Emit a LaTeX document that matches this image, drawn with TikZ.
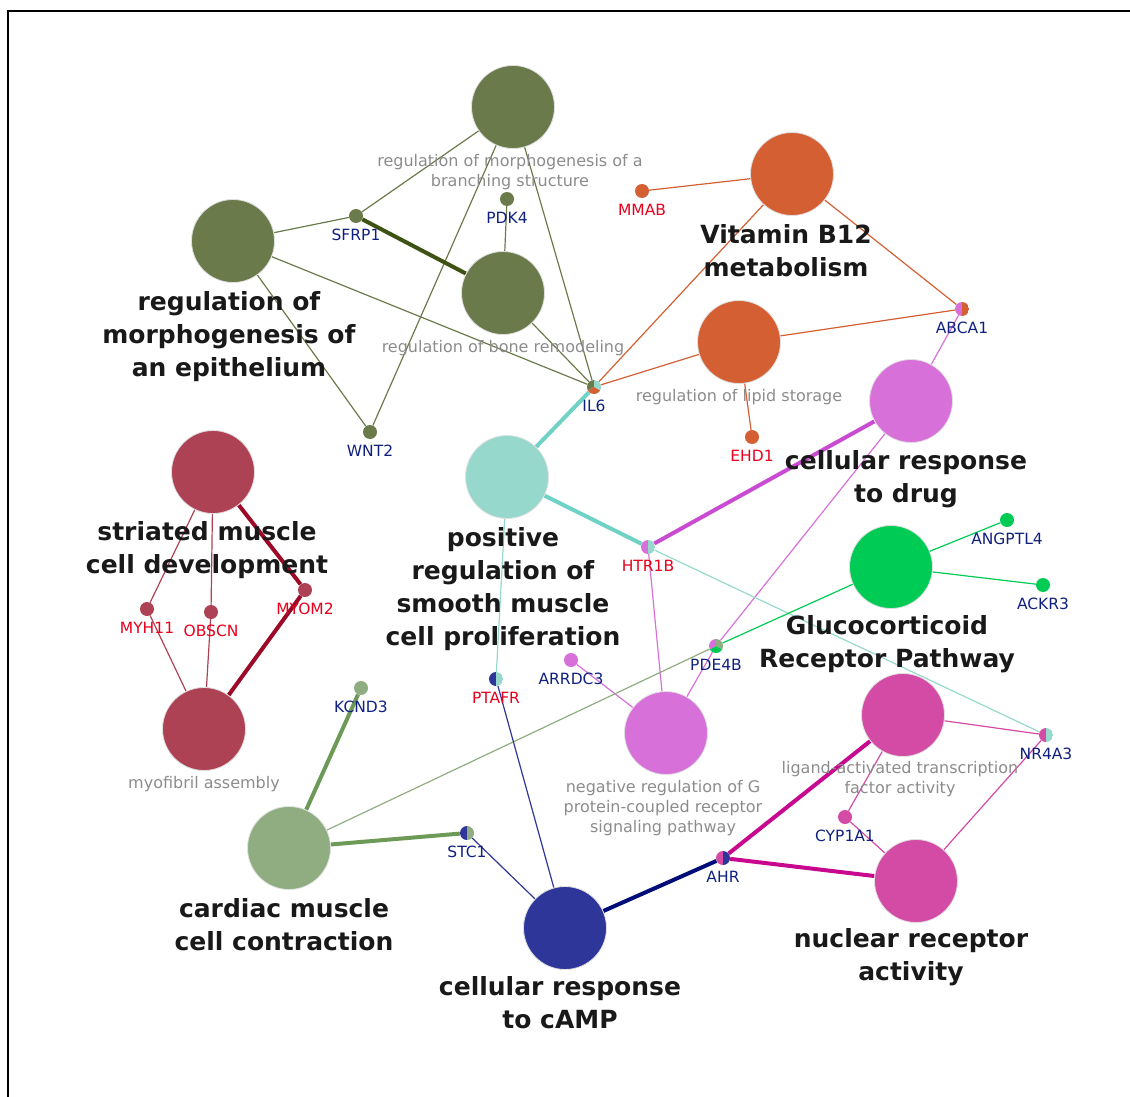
\documentclass[tikz,border=0pt]{standalone}
\usepackage{fontspec}
\setmainfont{DejaVu Sans}
\usetikzlibrary{backgrounds}

\definecolor{cOlive}{HTML}{6B7A4B}
\definecolor{cOliveD}{HTML}{3E5214}
\definecolor{cOrange}{HTML}{D35F33}
\definecolor{cRed}{HTML}{AE4255}
\definecolor{cRedD}{HTML}{9C0A28}
\definecolor{cCyan}{HTML}{96D9CC}
\definecolor{cCyanD}{HTML}{6FD2C4}
\definecolor{cViolet}{HTML}{D870DA}
\definecolor{cVioletD}{HTML}{C84BD2}
\definecolor{cGreen}{HTML}{00CC55}
\definecolor{cMag}{HTML}{D44BA5}
\definecolor{cMagD}{HTML}{C8088E}
\definecolor{cBlue}{HTML}{2E3799}
\definecolor{cBlueD}{HTML}{020E78}
\definecolor{cLGreen}{HTML}{8FAD80}
\definecolor{cLGreenD}{HTML}{6E9A58}
\definecolor{cNavy}{HTML}{102080}
\definecolor{cGeneRed}{HTML}{E8001C}

\begin{document}
\begin{tikzpicture}[x=1pt,y=-1pt,
    term/.style={circle,fill=#1,draw=black!12,line width=0.8pt,minimum size=83pt,inner sep=0pt},
    gene/.style={circle,fill=#1,minimum size=14pt,inner sep=0pt},
    half/.style 2 args={circle,minimum size=14pt,inner sep=0pt,
        path picture={\fill[#1](path picture bounding box.south west) rectangle (path picture bounding box.north);
        \fill[#2](path picture bounding box.north) rectangle (path picture bounding box.south east);}},
    tri/.style n args={3}{circle,minimum size=14pt,inner sep=0pt,
        path picture={\fill[#1](path picture bounding box.center) -- ++(90:8pt) arc[start angle=90,end angle=210,radius=8pt] -- cycle;
        \fill[#2](path picture bounding box.center) -- ++(-30:8pt) arc[start angle=-30,end angle=90,radius=8pt] -- cycle;
        \fill[#3](path picture bounding box.center) -- ++(210:8pt) arc[start angle=210,end angle=330,radius=8pt] -- cycle;}},
    glab/.style={font=\fontsize{15.5}{18}\selectfont,text=cNavy,inner sep=0pt,label distance=5.5pt},
    glabr/.style={glab,text=cGeneRed},
    tlab/.style={font=\bfseries\fontsize{25}{33}\selectfont,align=center,text=black!90,anchor=base,inner sep=0pt},
    slab/.style={font=\fontsize{16}{20}\selectfont,align=center,text=black!45,anchor=base,inner sep=0pt},
    ln/.style={line width=1.2pt,draw=#1},
    lnw/.style={line width=4pt,draw=#1}]

    \useasboundingbox (0,0) rectangle (1130,1097);
    \draw[line width=2pt] (1130,11) -- (7.7,11) -- (7.7,1097);

    \node[term=cOlive] (branch) at (513,107) {};
    \node[term=cOlive] (epith) at (233,241) {};
    \node[term=cOlive] (bone) at (503,293) {};
    \node[term=cOrange] (vitb) at (792,174) {};
    \node[term=cOrange] (lipid) at (739,342) {};
    \node[term=cViolet] (drug) at (911,401) {};
    \node[term=cRed] (striated) at (213,472) {};
    \node[term=cRed] (myofib) at (204,729) {};
    \node[term=cCyan] (smooth) at (507,477) {};
    \node[term=cGreen] (gluco) at (891,567) {};
    \node[term=cViolet] (gpcr) at (666,733) {};
    \node[term=cMag] (ligand) at (903,715) {};
    \node[term=cLGreen] (cardiac) at (289,848) {};
    \node[term=cBlue] (camp) at (565,928) {};
    \node[term=cMag] (nuclear) at (916,881) {};

    \node[gene=cOlive,label={[glab]below:SFRP1}] (sfrp1) at (356,216) {};
    \node[gene=cOlive,label={[glab]below:PDK4}] (pdk4) at (507,199) {};
    \node[gene=cOlive,label={[glab]below:WNT2}] (wnt2) at (370,432) {};
    \node[tri={cOlive}{cCyan}{cOrange},label={[glab]below:IL6}] (il6) at (594,387) {};
    \node[gene=cOrange,label={[glabr]below:MMAB}] (mmab) at (642,191) {};
    \node[gene=cOrange,label={[glabr]below:EHD1}] (ehd1) at (752,437) {};
    \node[half={cViolet}{cOrange},label={[glab]below:ABCA1}] (abca1) at (962,309) {};
    \node[half={cViolet}{cCyan},label={[glabr]below:HTR1B}] (htr1b) at (648,547) {};
    \node[gene=cGreen,label={[glab]below:ANGPTL4}] (angptl4) at (1007,520) {};
    \node[gene=cGreen,label={[glab]below:ACKR3}] (ackr3) at (1043,585) {};
    \node[tri={cViolet}{cLGreen}{cGreen},label={[glab]below:PDE4B}] (pde4b) at (716,646) {};
    \node[gene=cViolet,label={[glab]below:ARRDC3}] (arrdc3) at (571,660) {};
    \node[half={cBlue}{cCyan},label={[glabr]below:PTAFR}] (ptafr) at (496,679) {};
    \node[gene=cLGreen,label={[glab]below:KCND3}] (kcnd3) at (361,688) {};
    \node[half={cBlue}{cLGreen},label={[glab]below:STC1}] (stc1) at (467,833) {};
    \node[half={cMag}{cBlue},label={[glab]below:AHR}] (ahr) at (723,858) {};
    \node[gene=cMag,label={[glab]below:CYP1A1}] (cyp1a1) at (845,817) {};
    \node[half={cMag}{cCyan},label={[glab]below:NR4A3}] (nr4a3) at (1046,735) {};
    \node[gene=cRed,label={[glabr]below:MYH11}] (myh11) at (147,609) {};
    \node[gene=cRed,label={[glabr]below:OBSCN}] (obscn) at (211,612) {};
    \node[gene=cRed,label={[glabr]below:MYOM2}] (myom2) at (305,590) {};

    \begin{scope}[on background layer]
        \draw[ln=cOlive] (branch) -- (sfrp1);
        \draw[ln=cOlive] (branch) -- (wnt2);
        \draw[ln=cOlive] (branch) -- (il6);
        \draw[ln=cOlive] (epith) -- (sfrp1);
        \draw[ln=cOlive] (epith) -- (il6);
        \draw[ln=cOlive] (epith) -- (wnt2);
        \draw[ln=cOlive] (pdk4) -- (bone);
        \draw[ln=cOlive] (bone) -- (il6);
        \draw[lnw=cOliveD] (sfrp1) -- (bone);

        \draw[ln=cOrange] (mmab) -- (vitb);
        \draw[ln=cOrange] (vitb) -- (il6);
        \draw[ln=cOrange] (vitb) -- (abca1);
        \draw[ln=cOrange] (lipid) -- (il6);
        \draw[ln=cOrange] (lipid) -- (abca1);
        \draw[ln=cOrange] (lipid) -- (ehd1);

        \draw[ln=cViolet] (abca1) -- (drug);
        \draw[ln=cViolet] (drug) -- (pde4b);
        \draw[ln=cViolet] (gpcr) -- (htr1b);
        \draw[ln=cViolet] (gpcr) -- (pde4b);
        \draw[ln=cViolet] (gpcr) -- (arrdc3);
        \draw[lnw=cVioletD] (drug) -- (htr1b);

        \draw[lnw=cCyanD] (smooth) -- (il6);
        \draw[lnw=cCyanD] (smooth) -- (htr1b);
        \draw[ln=cCyan] (smooth) -- (ptafr);
        \draw[ln=cCyan] (htr1b) -- (nr4a3);

        \draw[ln=cGreen] (gluco) -- (angptl4);
        \draw[ln=cGreen] (gluco) -- (ackr3);
        \draw[ln=cGreen] (gluco) -- (pde4b);

        \draw[ln=cLGreen] (cardiac) -- (pde4b);
        \draw[lnw=cLGreenD] (cardiac) -- (kcnd3);
        \draw[lnw=cLGreenD] (cardiac) -- (stc1);

        \draw[ln=cRed] (striated) -- (myh11);
        \draw[ln=cRed] (striated) -- (obscn);
        \draw[ln=cRed] (myh11) -- (myofib);
        \draw[ln=cRed] (obscn) -- (myofib);
        \draw[lnw=cRedD] (striated) -- (myom2);
        \draw[lnw=cRedD] (myom2) -- (myofib);

        \draw[ln=cBlue] (camp) -- (stc1);
        \draw[ln=cBlue] (camp) -- (ptafr);
        \draw[lnw=cBlueD] (camp) -- (ahr);

        \draw[lnw=cMagD] (ligand) -- (ahr);
        \draw[lnw=cMagD] (nuclear) -- (ahr);
        \draw[ln=cMag] (ligand) -- (cyp1a1);
        \draw[ln=cMag] (nuclear) -- (cyp1a1);
        \draw[ln=cMag] (ligand) -- (nr4a3);
        \draw[ln=cMag] (nuclear) -- (nr4a3);
    \end{scope}

    \node[tlab] (epithlab) at (229,376) {regulation of\\morphogenesis of\\an epithelium};
    \node[tlab] (vitblab) at (786,276) {Vitamin B12\\metabolism};
    \node[tlab] (striatedlab) at (207,573) {striated muscle\\cell development};
    \node[tlab] (smoothlab) at (503,645) {positive\\regulation of\\smooth muscle\\cell proliferation};
    \node[tlab] (druglab) at (906,502) {cellular response\\to drug};
    \node[tlab] (glucolab) at (887,667) {Glucocorticoid\\Receptor Pathway};
    \node[tlab] (cardiaclab) at (284,950) {cardiac muscle\\cell contraction};
    \node[tlab] (camplab) at (560,1028) {cellular response\\to cAMP};
    \node[tlab] (nuclearlab) at (911,980) {nuclear receptor\\activity};

    \node[slab] (branchlab) at (510,186) {regulation of morphogenesis of a\\branching structure};
    \node[slab] (bonelab) at (503,352) {regulation of bone remodeling};
    \node[slab] (lipidlab) at (739,401) {regulation of lipid storage};
    \node[slab] (myofiblab) at (204,788) {myofibril assembly};
    \node[slab] (gpcrlab) at (663,832) {negative regulation of G\\protein-coupled receptor\\signaling pathway};
    \node[slab] (ligandlab) at (900,793) {ligand-activated transcription\\factor activity};
\end{tikzpicture}
\end{document}
